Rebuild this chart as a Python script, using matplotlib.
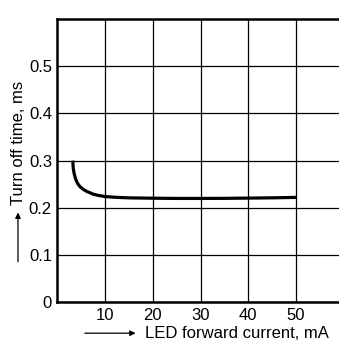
import numpy as np
import matplotlib.pyplot as plt

# Data -----------------------------------------------------------------

current_mA = [3.2, 3.3, 3.5, 3.8, 4.2, 4.7, 5.3, 6.1, 6.8, 7.5, 8.5, 10,
              12, 15, 20, 25, 30, 35, 40, 45, 50]
turn_off_ms = [0.300, 0.284, 0.272, 0.261, 0.252, 0.245, 0.240, 0.235,
               0.232, 0.229, 0.2265, 0.2240, 0.2225, 0.2212, 0.2205,
               0.2200, 0.2200, 0.2202, 0.2207, 0.2213, 0.2222]

x_ticks = [10, 20, 30, 40, 50]
y_ticks = [0, 0.1, 0.2, 0.3, 0.4, 0.5]
y_tick_labels = ["0", "0.1", "0.2", "0.3", "0.4", "0.5"]

# Plot -----------------------------------------------------------------

plt.rcParams["font.family"] = ["Liberation Sans", "DejaVu Sans"]

fig = plt.figure(figsize=(3.39, 3.40), dpi=100)
ax = fig.add_axes([0.1696, 0.1103, 0.8442, 0.8347])

ax.plot(current_mA, turn_off_ms, color="black", linewidth=2.3,
        solid_capstyle="butt", solid_joinstyle="round", zorder=3)

ax.set_xlim(0, 60)
ax.set_ylim(0, 0.6)
ax.set_xticks(x_ticks)
ax.set_yticks(y_ticks)
ax.set_yticklabels(y_tick_labels)
ax.tick_params(length=0, labelsize=12, pad=4)
ax.grid(True, color="black", linewidth=0.9)
ax.set_axisbelow(True)

for side in ["left", "top", "bottom"]:
    ax.spines[side].set_linewidth(1.8)
ax.spines["right"].set_visible(False)

# axis titles with arrows
fig.text(0.056, 0.58, "Turn off time, ms", rotation=90, fontsize=12,
         ha="center", va="center")
ax.annotate("", xy=(0.053, 0.375), xytext=(0.053, 0.23),
            xycoords="figure fraction",
            arrowprops=dict(arrowstyle="-|>", color="black", lw=0.9,
                            mutation_scale=8, shrinkA=0, shrinkB=0))

fig.text(0.428, 0.02, "LED forward current, mA", fontsize=12,
         ha="left", va="center")
ax.annotate("", xy=(0.40, 0.02), xytext=(0.25, 0.02),
            xycoords="figure fraction",
            arrowprops=dict(arrowstyle="-|>", color="black", lw=0.9,
                            mutation_scale=8, shrinkA=0, shrinkB=0))

plt.savefig("out.png", dpi=100)
